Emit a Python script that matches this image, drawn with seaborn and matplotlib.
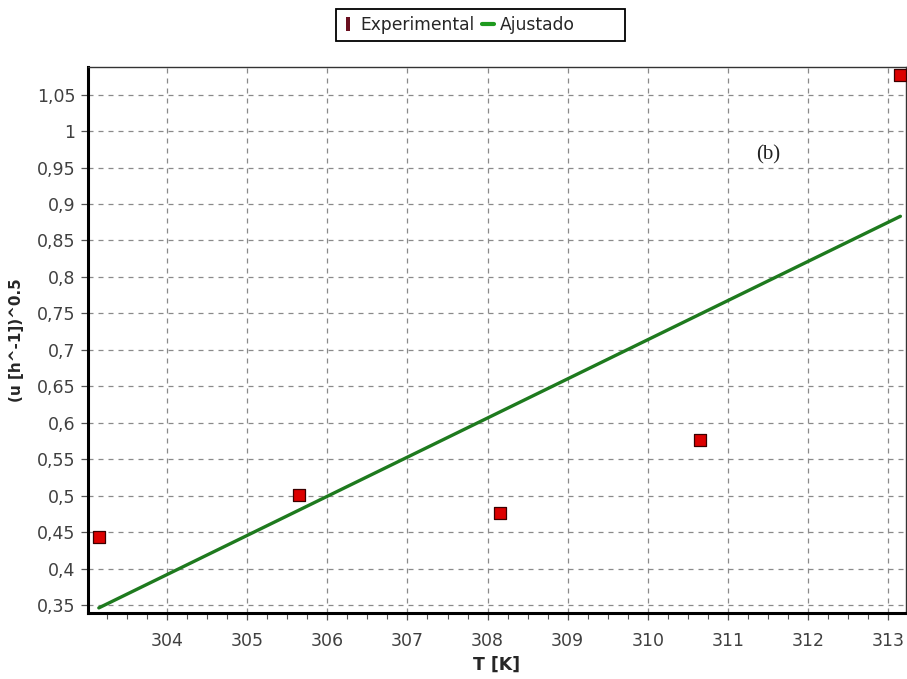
import numpy as np
import pandas as pd
import seaborn as sns
import matplotlib
matplotlib.use("Agg")
import matplotlib.pyplot as plt
from matplotlib.ticker import MultipleLocator, FuncFormatter
from matplotlib.lines import Line2D
from matplotlib.patches import Rectangle
from matplotlib.markers import MarkerStyle

# Temperature [K] and square root of specific growth rate
temperature = [303.15, 305.65, 308.15, 310.65, 313.15]
sqrt_rate = [0.443, 0.501, 0.476, 0.576, 1.077]

x_label = "T [K]"
y_label = "(u [h^-1])^0.5"
legend_labels = ["Experimental", "Ajustado"]
panel_tag = "(b)"

df = pd.DataFrame({"T": temperature, "u": sqrt_rate})

sns.set_theme(style="white")
plt.rcParams["font.family"] = ["DejaVu Sans"]

W, H = 907, 679
fig = plt.figure(figsize=(W / 100, H / 100), dpi=100)
ax = fig.add_axes([88 / W, 1 - 613 / H, (906 - 88) / W, (613 - 67) / H])

# least-squares straight line through the measurements
sns.regplot(data=df, x="T", y="u", ax=ax, scatter=False, ci=None,
            line_kws=dict(color="#1e7a1e", lw=2.4, zorder=3))

sns.scatterplot(data=df, x="T", y="u", ax=ax, marker="s", s=85,
                color="#dc0000", edgecolor="#3a0000", linewidth=0.9,
                zorder=4, clip_on=False)

ax.set_xlim(303.015, 313.22)
ax.set_ylim(0.339, 1.088)

ax.xaxis.set_major_locator(MultipleLocator(1))
ax.xaxis.set_minor_locator(MultipleLocator(0.25))
ax.yaxis.set_major_locator(MultipleLocator(0.05))

def comma_fmt(v, pos):
    return ("%g" % round(v, 4)).replace(".", ",")

ax.yaxis.set_major_formatter(FuncFormatter(comma_fmt))
ax.xaxis.set_major_formatter(FuncFormatter(lambda v, p: "%d" % round(v)))

ax.grid(True, which="major", linestyle=(0, (4, 4)), color="#8a8a8a", lw=0.9)
ax.set_axisbelow(True)

for side in ["left", "bottom"]:
    ax.spines[side].set_linewidth(2.2)
    ax.spines[side].set_color("black")
for side in ["top", "right"]:
    ax.spines[side].set_linewidth(1.0)
    ax.spines[side].set_color("#333333")

ax.tick_params(axis="both", which="major", direction="out", length=5,
               width=0.9, color="#555555", labelsize=12.5,
               labelcolor="#404040", bottom=True, left=True)
ax.tick_params(axis="x", which="minor", direction="out", length=4,
               width=0.8, color="#555555", bottom=True)
ax.tick_params(axis="x", which="major", pad=9)
ax.tick_params(axis="y", which="major", pad=4)

ax.set_xlabel(x_label, fontsize=12.5, fontweight="bold", labelpad=4)
ax.set_ylabel(y_label, fontsize=11, fontweight="bold", labelpad=9)

ax.text((768 - 88) / 818, (613 - 155) / 546, panel_tag,
        transform=ax.transAxes,
        family=["Liberation Serif", "DejaVu Serif"], fontsize=15,
        ha="center", va="center", color="#222222")

# legend above the plot area
tall_bar = MarkerStyle([(-0.35, -1), (0.35, -1), (0.35, 1), (-0.35, 1)])
handles = [
    Line2D([], [], marker=tall_bar, linestyle="none", markersize=10,
           markerfacecolor="#6a1020", markeredgecolor="#6a1020",
           markeredgewidth=0),
    Line2D([], [], color="#1e9a1e", lw=3),
]
leg = fig.legend(handles, legend_labels, loc="center left",
                 bbox_to_anchor=(342 / W, 1 - 25 / H), ncol=2,
                 frameon=False, fontsize=12.3,
                 handlelength=0.7, handletextpad=0.35, columnspacing=0.45,
                 borderpad=0.0, borderaxespad=0)
fig.patches.append(Rectangle((336 / W, 1 - 41 / H), (625 - 336) / W,
                             32 / H, transform=fig.transFigure,
                             fill=False, edgecolor="black", lw=1.3))

fig.savefig("out.png", dpi=100, facecolor="white")
